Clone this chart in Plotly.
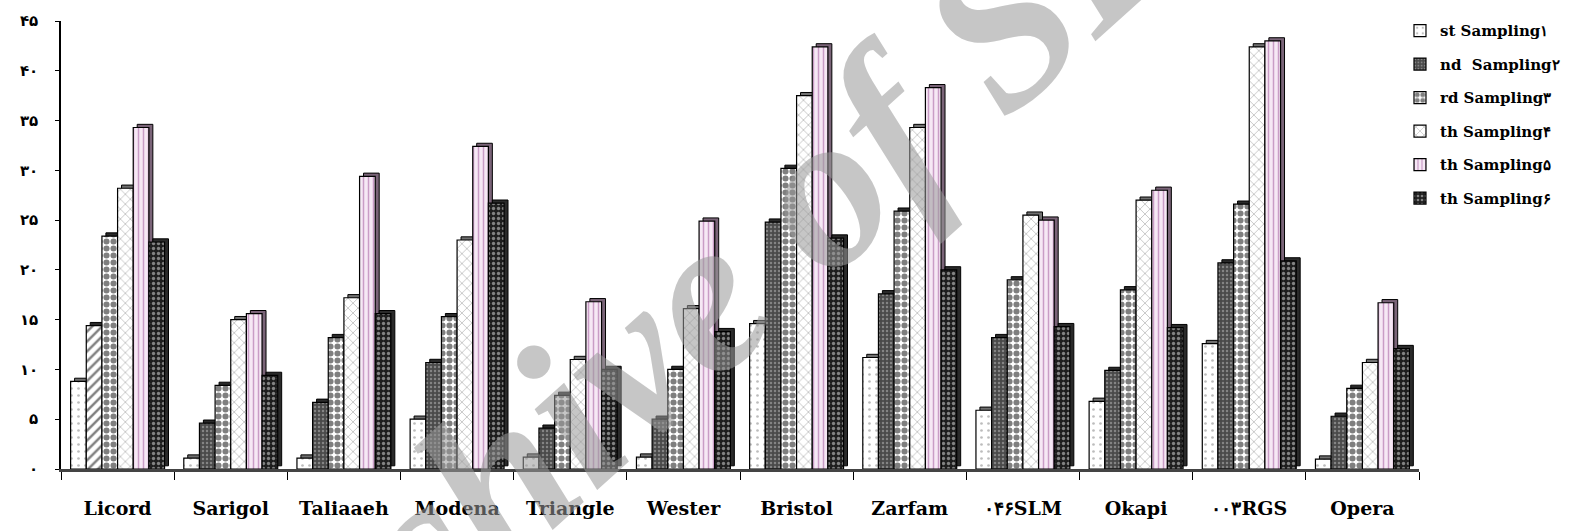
import plotly.graph_objects as go

categories = ["Licord", "Sarigol", "Taliaaeh", "Modena", "Triangle", "Wester",
              "Bristol", "Zarfam", "۰۴۶SLM", "Okapi", "۰۰۳RGS", "Opera"]

sampling1 = [8.8, 1.1, 1.1, 5.0, 1.2, 1.2, 14.6, 11.2, 5.9, 6.8, 12.6, 1.0]
sampling2 = [14.4, 4.6, 6.7, 10.7, 4.1, 5.0, 24.8, 17.6, 13.2, 9.9, 20.7, 5.3]
sampling3 = [23.4, 8.4, 13.2, 15.3, 7.4, 10.0, 30.2, 25.9, 19.0, 18.0, 26.6, 8.1]
sampling4 = [28.2, 15.0, 17.2, 23.0, 11.0, 16.1, 37.5, 34.3, 25.5, 27.0, 42.4, 10.7]
sampling5 = [34.3, 15.6, 29.4, 32.4, 16.8, 24.9, 42.4, 38.3, 25.0, 28.0, 43.0, 16.7]
sampling6 = [22.8, 9.4, 15.6, 26.7, 10.0, 13.8, 23.2, 20.0, 14.3, 14.2, 20.9, 12.1]

series_names = ["st Sampling۱", "nd  Sampling۲", "rd Sampling۳",
                "th Sampling۴", "th Sampling۵", "th Sampling۶"]

ytick_vals = [0, 5, 10, 15, 20, 25, 30, 35, 40, 45]
ytick_text = ["۰", "۵", "۱۰", "۱۵", "۲۰", "۲۵", "۳۰", "۳۵", "۴۰", "۴۵"]

n = len(categories)
serif = "DejaVu Serif, Liberation Serif, serif"

dark_pat = dict(shape=".", bgcolor="#4a4a4a", fgcolor="#bdbdbd", size=4, solidity=0.3)
patterns = [
    dict(shape=".", bgcolor="white", fgcolor="#7a7a7a", size=7, solidity=0.12),
    dict(shape=["/"] + ["."] * (n - 1),
         bgcolor=["white"] + ["#4a4a4a"] * (n - 1),
         fgcolor=["black"] + ["#bdbdbd"] * (n - 1),
         size=[7] + [4] * (n - 1), solidity=[0.35] + [0.3] * (n - 1)),
    dict(shape=".", bgcolor="white", fgcolor="black", size=7, solidity=0.6),
    dict(shape="x", bgcolor="white", fgcolor="#7c7c7c", size=7, solidity=0.22),
    dict(shape="|", bgcolor="#f6e8f5", fgcolor="#9b4f98", size=5, solidity=0.3),
    dict(shape=".", bgcolor="#1e1e1e", fgcolor="#e8e8e8", size=5, solidity=0.35),
]
side_colors = ["#707070", "#2a2a2a", "#2a2a2a", "#707070", "#7a6478", "#2a2a2a"]

data = [sampling1, sampling2, sampling3, sampling4, sampling5, sampling6]

bargap = 0.17
w = (1 - bargap) / 6
dx = 0.035   # depth shift (category units)
dz = 0.32    # depth shift (value units)

fig = go.Figure()
# depth (side/top faces) drawn first, behind every front face
for i, vals in enumerate(data):
    off = -(1 - bargap) / 2 + i * w
    fig.add_trace(go.Bar(
        x=categories, y=vals, base=dz, width=w, offset=off + dx,
        marker=dict(color=side_colors[i], line=dict(color="black", width=1)),
        showlegend=False, hoverinfo="skip"))
# front faces
for i, (name, vals, pat) in enumerate(zip(series_names, data, patterns)):
    off = -(1 - bargap) / 2 + i * w
    fig.add_trace(go.Bar(
        x=categories, y=vals, name=name, width=w, offset=off,
        legendgroup=f"g{i}", showlegend=(i != 1),
        marker=dict(pattern=pat, line=dict(color="black", width=1.2)),
    ))
    if i == 1:
        # legend entry showing the pattern used by most bars of this series
        fig.add_trace(go.Bar(
            x=[categories[0]], y=[None], name=name, width=w, offset=off,
            legendgroup=f"g{i}", showlegend=True,
            marker=dict(pattern=dark_pat, line=dict(color="black", width=1.2)),
        ))

fig.update_layout(
    width=1577, height=531,
    margin=dict(l=61, r=155, t=18, b=51),
    paper_bgcolor="white", plot_bgcolor="white",
    barmode="overlay",
    showlegend=True,
    legend=dict(x=0.986, xanchor="left", y=1.015, yanchor="top",
                font=dict(family=serif, size=15, color="black", weight="bold"),
                traceorder="grouped", tracegroupgap=11,
                itemwidth=30, bgcolor="rgba(0,0,0,0)"),
    xaxis=dict(showline=True, linecolor="#444", linewidth=2.5, ticks="outside",
               tickson="boundaries", ticklen=8, tickcolor="black",
               showgrid=False, ticklabelstandoff=20,
               tickfont=dict(family=serif, size=19, color="black", weight="bold")),
    yaxis=dict(range=[0, 45], showline=True, linecolor="black", linewidth=1.5,
               ticks="outside", ticklen=4, tickcolor="black", ticklabelstandoff=14,
               tickvals=ytick_vals, ticktext=ytick_text, showgrid=False, zeroline=False,
               tickfont=dict(family="DejaVu Sans, Noto Sans", size=15, color="black", weight="bold")),
    annotations=[dict(
        text="Archive of SID", xref="paper", yref="paper", x=0.48, y=0.41,
        xanchor="center", yanchor="middle",
        showarrow=False, textangle=-42, opacity=0.55,
        font=dict(family="Liberation Serif, serif", size=222, color="#999999",
                  style="italic", weight="bold"),
    )],
)

fig.write_html("out.html")
